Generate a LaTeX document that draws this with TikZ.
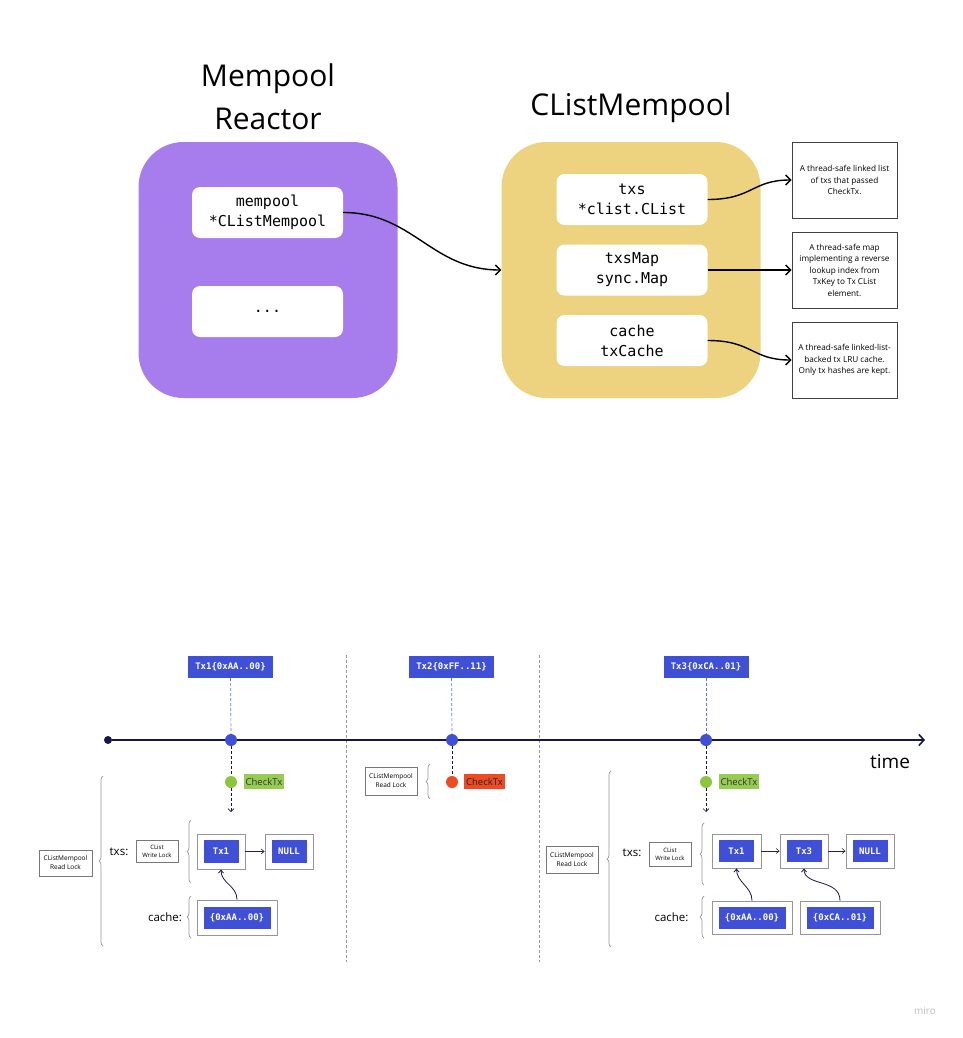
\documentclass[tikz,border=0pt]{standalone}
\usepackage{fontspec}
\setmainfont{Open Sans}
\setmonofont{DejaVu Sans Mono}
\usetikzlibrary{arrows.meta,decorations.pathreplacing}
\definecolor{reactorpurple}{RGB}{167,124,236}
\definecolor{clistyellow}{RGB}{237,210,127}
\definecolor{txblue}{RGB}{64,80,214}
\definecolor{okgreen}{RGB}{140,198,63}
\definecolor{badred}{RGB}{238,74,36}
\definecolor{timenavy}{RGB}{22,22,72}
\definecolor{lockgray}{RGB}{150,150,150}

\begin{document}
\begin{tikzpicture}[x=1pt,y=-1pt,
    bigbox/.style={rounded corners=45pt, minimum width=259pt, minimum height=256pt, inner sep=0pt},
    field/.style={fill=white, rounded corners=8pt, minimum width=151pt, minimum height=51pt, inner sep=0pt,
      align=center, font=\ttfamily\fontsize{15}{20}\selectfont},
    note/.style={draw=black!75, fill=white, line width=0.8pt, minimum width=105pt, minimum height=76pt,
      inner sep=0pt, align=center, font=\fontsize{8.2}{11.5}\selectfont},
    link/.style={-{Straight Barb[length=5pt,width=10pt]}, line width=1.4pt},
    tag/.style={fill=txblue, text=white, minimum width=85pt, minimum height=22pt, inner sep=0pt,
      font=\ttfamily\bfseries\fontsize{9}{10}\selectfont},
    evdot/.style={circle, fill=txblue, minimum size=12pt, inner sep=0pt},
    chkdot/.style={circle, minimum size=12pt, inner sep=0pt},
    chklbl/.style={minimum height=15pt, inner sep=2pt, font=\fontsize{9.5}{10}\selectfont},
    lockbox/.style={draw=lockgray!80!black, line width=0.8pt, fill=white, inner sep=0pt, align=center,
      font=\fontsize{6.5}{9}\selectfont},
    cell/.style={draw=lockgray, line width=0.9pt, fill=white, inner sep=0pt},
    cellin/.style={fill=txblue, text=white, inner sep=0pt, font=\ttfamily\bfseries\fontsize{9}{10}\selectfont},
    lockbrace/.style={decorate, decoration={brace, amplitude=4pt}, draw=lockgray, line width=0.7pt},
    next/.style={-{Straight Barb[length=3pt,width=5pt]}, line width=0.6pt, black!85},
    hashptr/.style={-{Straight Barb[length=3pt,width=5pt]}, line width=0.8pt, timenavy},
  ]
  \useasboundingbox (0,0) rectangle (962,1038);

  % --- struct layout ---
  \node[align=center, font=\fontsize{30}{43}\selectfont] (rtitle) at (268,97) {Mempool\\Reactor};
  \node[font=\fontsize{30}{36}\selectfont] (ctitle) at (631,108) {CListMempool};

  \node[bigbox, fill=reactorpurple] (reactor) at (268,270) {};
  \node[field] (mp) at (267.5,212.5) {mempool\\*CListMempool};
  \node[field] (rest) at (267.5,311.5) {...};

  \node[bigbox, fill=clistyellow] (clist) at (631,270) {};
  \node[field] (txs) at (632,199.5) {txs\\*clist.CList};
  \node[field] (txsmap) at (632,270) {txsMap\\sync.Map};
  \node[field] (cache) at (632,340.5) {cache\\txCache};

  \node[note] (ntxs) at (844.5,180) {A thread-safe linked list\\of txs that passed\\CheckTx.};
  \node[note] (nmap) at (844.5,270) {A thread-safe map\\implementing a reverse\\lookup index from\\TxKey to Tx CList\\element.};
  \node[note] (ncache) at (844.5,360) {A thread-safe linked-list-\\backed tx LRU cache.\\Only tx hashes are kept.};

  \draw[link] (mp.east) .. controls +(70,0) and +(-70,0) .. (clist.west);
  \draw[link] (txs.east) .. controls +(45,0) and +(-40,0) .. (ntxs.west);
  \draw[link] (txsmap.east) -- (nmap.west);
  \draw[link] (cache.east) .. controls +(45,0) and +(-40,0) .. (ncache.west);

  % --- timeline ---
  \draw[lockgray, line width=0.8pt, dash pattern=on 3pt off 2pt] (346,655) -- (346,962);
  \draw[lockgray, line width=0.8pt, dash pattern=on 3pt off 2pt] (539,655) -- (539,962);

  \node[circle, fill=timenavy, minimum size=8pt, inner sep=0pt] (t0) at (108,740) {};
  \coordinate (tend) at (925,740);
  \draw[timenavy, line width=1.6pt, -{Straight Barb[length=5pt,width=11pt]}] (t0) -- (tend);
  \node[font=\fontsize{19}{22}\selectfont] (time) at (890,762) {time};

  \node[tag] (l1) at (230.5,667) {Tx1\{0xAA..00\}};
  \node[tag] (l2) at (451.5,667) {Tx2\{0xFF..11\}};
  \node[tag] (l3) at (706,667) {Tx3\{0xCA..01\}};
  \node[evdot] (e1) at (231,740) {};
  \node[evdot] (e2) at (452,740) {};
  \node[evdot] (e3) at (706,740) {};
  \foreach \i in {1,2,3}
    \draw[txblue!80, line width=0.7pt, dash pattern=on 3pt off 2pt] (l\i) -- (e\i);

  \node[chkdot, fill=okgreen] (c1) at (231,782) {};
  \node[chkdot, fill=badred] (c2) at (452,782) {};
  \node[chkdot, fill=okgreen] (c3) at (706,782) {};
  \node[chklbl, fill=okgreen!90!white, text=black!80] (k1) at (264,781.5) {CheckTx};
  \node[chklbl, fill=badred, text=black!85] (k2) at (484.5,781.5) {CheckTx};
  \node[chklbl, fill=okgreen!90!white, text=black!80] (k3) at (739,781.5) {CheckTx};
  \coordinate (d1) at (231,812);
  \coordinate (d3) at (706,812);
  \foreach \i in {1,2,3}
    \draw[timenavy, line width=0.7pt, dash pattern=on 3pt off 2pt] (e\i) -- (c\i);
  \draw[timenavy, line width=0.7pt, dash pattern=on 3pt off 2pt, -{Straight Barb[length=3pt,width=6pt]}] (c1) -- (d1);
  \draw[timenavy, line width=0.7pt, dash pattern=on 3pt off 2pt, -{Straight Barb[length=3pt,width=6pt]}] (c3) -- (d3);

  % --- Tx1 accepted ---
  \node[lockbox, minimum width=53pt, minimum height=26pt] (rl1) at (65.5,863) {CListMempool\\Read Lock};
  \draw[lockbrace] (103,946) -- (103,776);
  \node[font=\fontsize{11.5}{13}\selectfont] (txs1) at (119,852) {txs:};
  \node[lockbox, minimum width=42pt, minimum height=22pt, font=\fontsize{6}{8}\selectfont] (wl1) at (157,851) {CList\\Write Lock};
  \draw[lockbrace] (191,883) -- (191,820);
  \node[font=\fontsize{11.5}{13}\selectfont] (cache1) at (165,917) {cache:};
  \draw[lockbrace] (191,938) -- (191,896);

  \node[cell, minimum width=48pt, minimum height=35pt] (a1) at (221,851.5) {};
  \node[cellin, minimum width=35pt, minimum height=23pt] (a1in) at (221,851.5) {Tx1};
  \node[cell, minimum width=48pt, minimum height=35pt] (an) at (289,851.5) {};
  \node[cellin, minimum width=35pt, minimum height=23pt] (anin) at (289,851.5) {NULL};
  \node[cell, minimum width=80pt, minimum height=35pt] (h1) at (237,917.5) {};
  \node[cellin, minimum width=67pt, minimum height=22pt] (h1in) at (237,917.5) {\{0xAA..00\}};
  \draw[next] (a1.east) -- (an.west);
  \draw[hashptr] (h1.north) .. controls +(0,-14) and +(0,14) .. (a1.south);

  % --- Tx2 rejected ---
  \node[lockbox, minimum width=52pt, minimum height=28pt] (rl2) at (391,781) {CListMempool\\Read Lock};
  \draw[lockbrace] (430,799) -- (430,764);

  % --- Tx3 accepted ---
  \node[lockbox, minimum width=52pt, minimum height=27pt] (rl3) at (572,859.5) {CListMempool\\Read Lock};
  \draw[lockbrace] (611,947) -- (611,771);
  \node[font=\fontsize{11.5}{13}\selectfont] (txs3) at (632,853) {txs:};
  \node[lockbox, minimum width=42pt, minimum height=24pt, font=\fontsize{6}{8}\selectfont] (wl3) at (670,854) {CList\\Write Lock};
  \draw[lockbrace] (704,885) -- (704,823);
  \node[font=\fontsize{11.5}{13}\selectfont] (cache3) at (671.5,917) {cache:};
  \draw[lockbrace] (704,938) -- (704,896);

  \node[cell, minimum width=49pt, minimum height=34pt] (b1) at (736.5,851) {};
  \node[cellin, minimum width=35pt, minimum height=22pt] (b1in) at (736.5,851) {Tx1};
  \node[cell, minimum width=48pt, minimum height=34pt] (b3) at (804,851) {};
  \node[cellin, minimum width=35pt, minimum height=22pt] (b3in) at (804,851) {Tx3};
  \node[cell, minimum width=48pt, minimum height=34pt] (bn) at (870,851) {};
  \node[cellin, minimum width=35pt, minimum height=22pt] (bnin) at (870,851) {NULL};
  \node[cell, minimum width=80pt, minimum height=33pt] (g1) at (752,917.5) {};
  \node[cellin, minimum width=67pt, minimum height=22pt] (g1in) at (752,917.5) {\{0xAA..00\}};
  \node[cell, minimum width=80pt, minimum height=33pt] (g3) at (840,917.5) {};
  \node[cellin, minimum width=67pt, minimum height=22pt] (g3in) at (840,917.5) {\{0xCA..01\}};
  \draw[next] (b1.east) -- (b3.west);
  \draw[next] (b3.east) -- (bn.west);
  \draw[hashptr] (g1.north) .. controls +(0,-14) and +(0,14) .. (b1.south);
  \draw[hashptr] (g3.north) .. controls +(0,-22) and +(0,18) .. (b3.south);

  \node[text=black!25, font=\fontsize{10}{12}\selectfont] (miro) at (925,1011) {miro};
\end{tikzpicture}
\end{document}
